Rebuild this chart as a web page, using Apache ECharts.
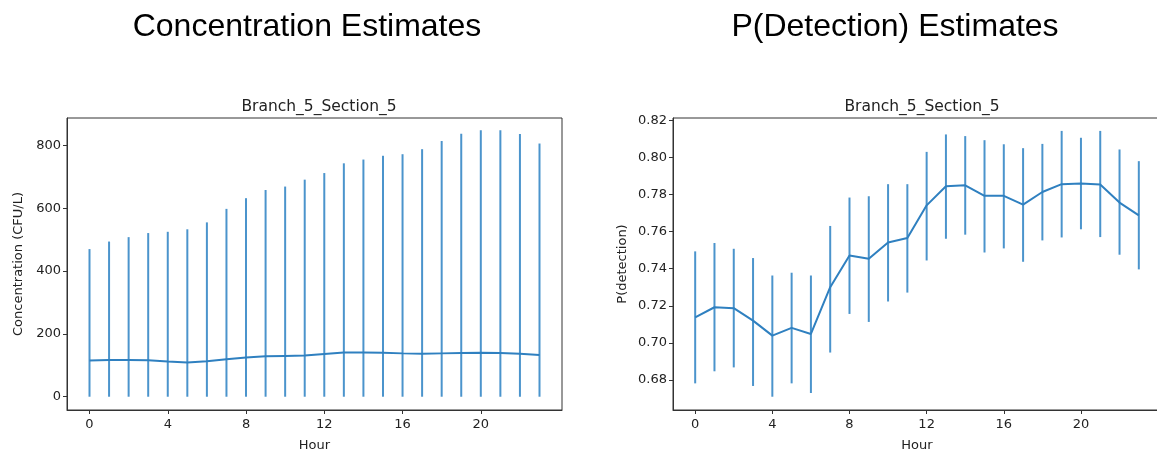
<!DOCTYPE html>
<html>
<head>
<meta charset="utf-8">
<script src="https://cdn.jsdelivr.net/npm/echarts@6/dist/echarts.min.js"></script>
<style>
html,body{margin:0;padding:0;background:#fff;}
#chart{width:1157px;height:454px;}
</style>
</head>
<body>
<div id="chart"></div>
<script>
// ---- data ----
var hours = [0,1,2,3,4,5,6,7,8,9,10,11,12,13,14,15,16,17,18,19,20,21,22,23];
var concMean = [115,117,117,116,112,109,113,119,125,129,130,131,136,141,141,140,138,137,138,139,140,139,137,133];
var concLow  = [0,0,0,0,0,0,0,0,0,0,0,0,0,0,0,0,0,0,0,0,0,0,0,0];
var concHigh = [470,494,508,521,525,533,555,598,632,658,669,691,712,743,755,767,772,788,814,837,848,848,836,806];
var pMean = [0.7138,0.7192,0.7187,0.7120,0.7039,0.7081,0.7048,0.7300,0.7471,0.7453,0.7541,0.7565,0.7741,0.7844,0.7849,0.7792,0.7792,0.7745,0.7813,0.7855,0.7858,0.7853,0.7756,0.7687];
var pLow  = [0.6782,0.6847,0.6868,0.6768,0.6710,0.6782,0.6730,0.6948,0.7156,0.7113,0.7223,0.7271,0.7444,0.7561,0.7583,0.7487,0.7509,0.7437,0.7552,0.7568,0.7612,0.7570,0.7475,0.7396];
var pHigh = [0.7493,0.7538,0.7507,0.7457,0.7363,0.7378,0.7363,0.7630,0.7783,0.7790,0.7855,0.7855,0.8029,0.8123,0.8114,0.8092,0.8070,0.8049,0.8072,0.8142,0.8105,0.8142,0.8042,0.7979];
var xTicks = [0,4,8,12,16,20];
var concTicks = [0,200,400,600,800];
var pTicks = [0.68,0.70,0.72,0.74,0.76,0.78,0.80,0.82];

var BLUE = '#2f80c0';
var BAR = '#4b94cc';
var AXC = '#333';
var FONT = 'DejaVu Sans';

function errData(lo, hi){ return hours.map(function(h,i){ return [h, lo[i], hi[i]]; }); }
function lineData(m){ return hours.map(function(h,i){ return [h, m[i]]; }); }

function renderErr(params, api){
  var p1 = api.coord([api.value(0), api.value(1)]);
  var p2 = api.coord([api.value(0), api.value(2)]);
  return {type:'line', shape:{x1:p1[0],y1:p1[1],x2:p2[0],y2:p2[1]}, style:{stroke:BAR, lineWidth:2}};
}

function xAxis(gi){
  return {
    type:'value', gridIndex:gi, min:-1.15, max:24.15,
    name:'Hour', nameLocation:'middle', nameGap:29,
    nameTextStyle:{fontFamily:FONT, fontSize:13, color:'#222'},
    splitLine:{show:false},
    axisLine:{show:true, onZero:false, lineStyle:{color:AXC, width:1}},
    axisTick:{show:true, length:4, lineStyle:{color:AXC}, customValues:xTicks},
    axisLabel:{fontFamily:FONT, fontSize:13, color:'#222', margin:8, customValues:xTicks}
  };
}
function yAxis(gi, min, max, ticks, name, gap, fmt){
  return {
    type:'value', gridIndex:gi, min:min, max:max,
    name:name, nameLocation:'middle', nameGap:gap, nameRotate:90,
    nameTextStyle:{fontFamily:FONT, fontSize:13, color:'#222'},
    splitLine:{show:false},
    axisLine:{show:true, onZero:false, lineStyle:{color:AXC, width:1}},
    axisTick:{show:true, length:4, lineStyle:{color:AXC}, customValues:ticks},
    axisLabel:{fontFamily:FONT, fontSize:13, color:'#222', margin:6, customValues:ticks, formatter:fmt}
  };
}

var chart = echarts.init(document.getElementById('chart'), null, {renderer:'canvas'});
chart.setOption({
  animation:false,
  backgroundColor:'#fff',
  title:[
    {text:'Concentration Estimates', left:302, top:6, textAlign:'center',
     textStyle:{fontFamily:'Liberation Sans', fontSize:32, fontWeight:'normal', color:'#000'}},
    {text:'P(Detection) Estimates', left:890, top:6, textAlign:'center',
     textStyle:{fontFamily:'Liberation Sans', fontSize:32, fontWeight:'normal', color:'#000'}},
    {text:'Branch_5_Section_5', left:314, top:94, textAlign:'center',
     textStyle:{fontFamily:FONT, fontSize:15.5, fontWeight:'normal', color:'#222'}},
    {text:'Branch_5_Section_5', left:917, top:94, textAlign:'center',
     textStyle:{fontFamily:FONT, fontSize:15.5, fontWeight:'normal', color:'#222'}}
  ],
  grid:[
    {left:67, top:118, width:495, height:292, show:true, borderColor:AXC, borderWidth:1,
     containLabel:false, outerBoundsMode:'none'},
    {left:673, top:118, width:488, height:292, show:true, borderColor:AXC, borderWidth:1,
     containLabel:false, outerBoundsMode:'none'}
  ],
  xAxis:[xAxis(0), xAxis(1)],
  yAxis:[
    yAxis(0, -42.25, 887.25, concTicks, 'Concentration (CFU/L)', 42, function(v){return String(Math.round(v));}),
    yAxis(1, 0.66385, 0.82115, pTicks, 'P(detection)', 44, function(v){return v.toFixed(2);})
  ],
  series:[
    {type:'custom', xAxisIndex:0, yAxisIndex:0, renderItem:renderErr, data:errData(concLow, concHigh), z:2},
    {type:'line', xAxisIndex:0, yAxisIndex:0, data:lineData(concMean), showSymbol:false, symbol:'none',
     lineStyle:{color:BLUE, width:2}, z:3},
    {type:'custom', xAxisIndex:1, yAxisIndex:1, renderItem:renderErr, data:errData(pLow, pHigh), z:2},
    {type:'line', xAxisIndex:1, yAxisIndex:1, data:lineData(pMean), showSymbol:false, symbol:'none',
     lineStyle:{color:BLUE, width:2}, z:3}
  ]
});
</script>
</body>
</html>
